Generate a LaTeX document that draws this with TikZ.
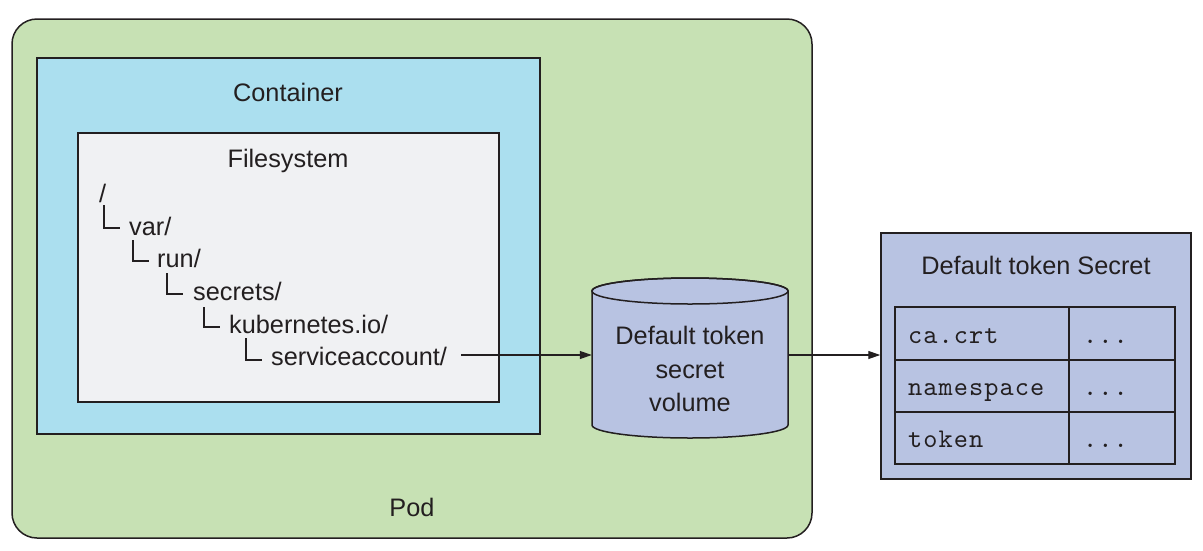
\documentclass[tikz,border=0pt]{standalone}
\usepackage{fontspec}
\setmainfont{Liberation Sans}
\newfontfamily\monofont[LetterSpace=4]{lmmono10-regular.otf}
\usetikzlibrary{arrows.meta}
\definecolor{podgreen}{HTML}{C7E1B4}
\definecolor{contblue}{HTML}{ABDFEF}
\definecolor{fsgray}{HTML}{F0F1F3}
\definecolor{secblue}{HTML}{B8C3E2}
\definecolor{edge}{HTML}{231F20}
\begin{document}
\begin{tikzpicture}[x=1pt,y=-1pt,
  box/.style={draw=edge,line width=1.5pt},
  lbl/.style={font=\fontsize{25.3}{30}\selectfont,text=edge,inner sep=0pt},
  mono/.style={font=\monofont\fontsize{27}{30}\selectfont,text=edge,inner sep=0pt,anchor=base west},
  tree/.style={draw=edge,line width=1.3pt},
  conn/.style={draw=edge,line width=1.2pt,-{Triangle[length=12pt,width=8pt]}}]
\useasboundingbox (0,0) rectangle (1203,550);
% Pod
\draw[box,fill=podgreen,rounded corners=25pt] (12,19) rectangle (812,538);
\node[lbl] (pod) at (412,507) {Pod};
% Container
\draw[box,fill=contblue] (37,58) rectangle (540,434);
\node[lbl] (cont) at (288,92) {Container};
% Filesystem
\draw[box,fill=fsgray] (78,133) rectangle (499,402);
\node[lbl] (fs) at (288,161) {Filesystem};
% tree
\node[lbl,anchor=base west] (root) at (99,202) {/};
\draw[tree] (104,205) -- (104,228) -- (120,228);
\node[lbl,anchor=base west] (var) at (129,235) {var/};
\draw[tree] (133,240) -- (133,261) -- (149,261);
\node[lbl,anchor=base west] (run) at (157,267) {run/};
\draw[tree] (167,273) -- (167,294) -- (183,294);
\node[lbl,anchor=base west] (sec) at (193,300) {secrets/};
\draw[tree] (204,307) -- (204,327) -- (220,327);
\node[lbl,anchor=base west] (k8s) at (229,333) {kubernetes.io/};
\draw[tree] (246,338) -- (246,360) -- (262,360);
\node[lbl,anchor=base west] (sa) at (271,365) {serviceaccount/};
% cylinder volume
\draw[box,fill=secblue] (592,291) -- (592,425) arc[start angle=180,end angle=360,x radius=98pt,y radius=13pt] -- (788,291) arc[start angle=0,end angle=180,x radius=98pt,y radius=13pt] -- cycle;
\draw[box] (690,291) ellipse [x radius=98pt,y radius=13pt];
\node[minimum width=196pt,minimum height=160pt,inner sep=0pt] (vol) at (690,358) {};
\node[lbl,align=center,font=\fontsize{25.3}{33.5}\selectfont] (voltxt) at (690,369) {Default token\\secret\\volume};
% secret
\node[box,fill=secblue,minimum width=310pt,minimum height=246pt,inner sep=0pt] (secret) at (1036,356) {};
\node[lbl] (sectitle) at (1036,265) {Default token Secret};
\draw[box] (895,307) rectangle (1069,360);
\draw[box] (1069,307) rectangle (1175,360);
\draw[box] (895,360) rectangle (1069,412);
\draw[box] (1069,360) rectangle (1175,412);
\draw[box] (895,412) rectangle (1069,464);
\draw[box] (1069,412) rectangle (1175,464);
\node[mono] (k1) at (908,343) {ca.crt};
\node[mono] (k2) at (908,395) {namespace};
\node[mono] (k3) at (908,447) {token};
\node[mono] (v1) at (1083,343) {...};
\node[mono] (v2) at (1083,395) {...};
\node[mono] (v3) at (1083,447) {...};
% connectors
\coordinate (saend) at ([xshift=14pt]sa.east |- 0,355);
\draw[conn] (saend) -- (vol.west |- saend);
\draw[conn] (vol.east |- saend) -- (secret.west |- saend);
\end{tikzpicture}
\end{document}
